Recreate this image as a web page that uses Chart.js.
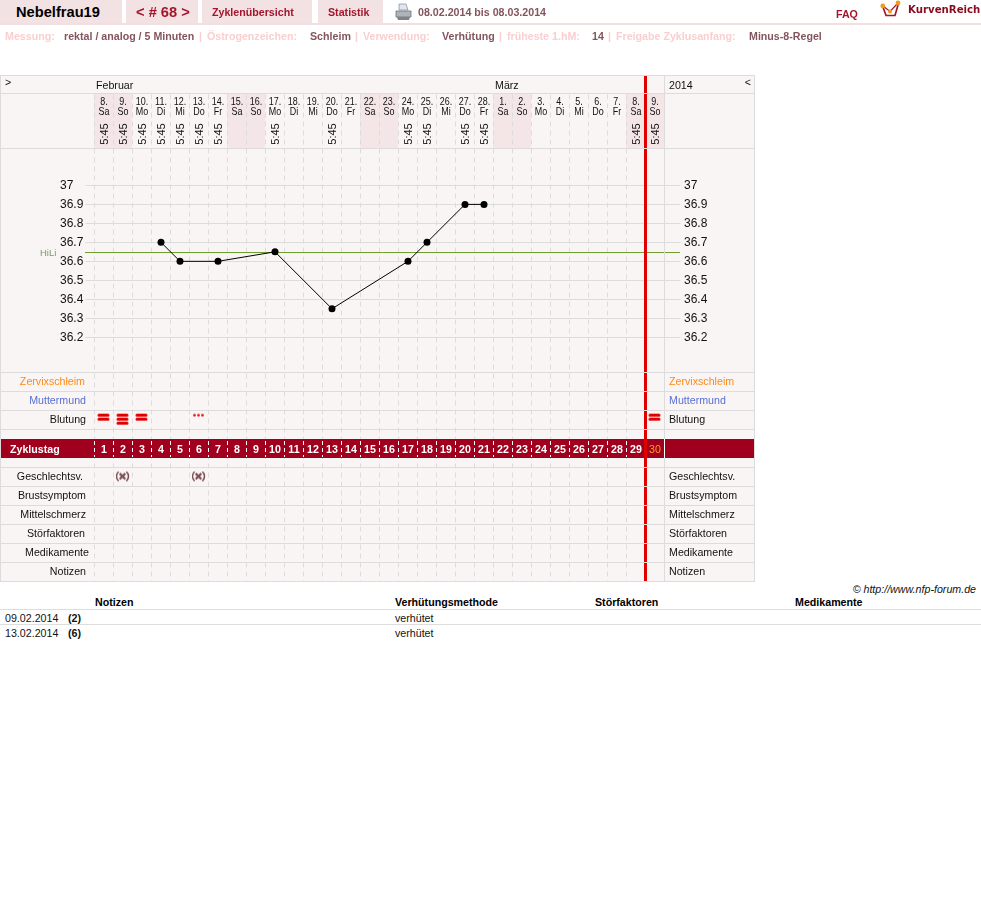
<!DOCTYPE html>
<html lang="de">
<head>
<meta charset="utf-8">
<title>Nebelfrau19</title>
<script src="https://cdn.jsdelivr.net/npm/chart.js@4"></script>
<style>
  html, body { margin: 0; padding: 0; background: #fff; }
  body { position: relative; width: 981px; height: 921px; overflow: hidden; font-family: "Liberation Sans", Arial, sans-serif; }
  #chartBox { position: absolute; left: 0; top: 0; width: 755px; height: 586px; }
  .t { position: absolute; white-space: nowrap; line-height: 12px; }
  .tab { position: absolute; top: 0; height: 23px; background: #f3e2e3; }
  .b { font-weight: bold; }
  .lbl { font-size: 10.67px; font-weight: bold; color: #f9cfd0; top: 30px; }
  .val { font-size: 10.67px; font-weight: bold; color: #84555c; top: 30px; }
  .hl { position: absolute; left: 0; width: 981px; height: 1px; background: #ddd; }
  .cell { font-size: 10.67px; color: #111; }
</style>
</head>
<body>
<div id="chartBox"><canvas id="cycleChart"></canvas></div>

<!-- Kopfzeile -->
<div class="tab" style="left:0;width:122px"></div>
<div class="tab" style="left:126px;width:72px"></div>
<div class="tab" style="left:202px;width:110px"></div>
<div class="tab" style="left:318px;width:65px"></div>
<div style="position:absolute;left:0;top:23px;width:981px;height:2px;background:#f3dfe0"></div>
<div class="t b" style="left:16px;top:6px;font-size:14.67px;color:#000">Nebelfrau19</div>
<div class="t b" style="left:136px;top:6px;font-size:14.67px;color:#a3162c">&lt; # 68 &gt;</div>
<div class="t b" style="left:212px;top:6px;font-size:10.67px;color:#a3162c">Zyklenübersicht</div>
<div class="t b" style="left:328px;top:6px;font-size:10.67px;color:#a3162c">Statistik</div>
<svg style="position:absolute;left:395px;top:3px" width="17" height="18" viewBox="0 0 17 18">
  <path d="M4 1h7l2 6H4z" fill="#dfe6ee" stroke="#8b98a6" stroke-width=".8"/>
  <path d="M1 8h15v6H1z" fill="#aeb4ba" stroke="#6d7378" stroke-width=".8"/>
  <path d="M2 14h13l-1 3H3z" fill="#7d8388"/>
</svg>
<div class="t b" style="left:418px;top:6px;font-size:10.67px;color:#84555c">08.02.2014 bis 08.03.2014</div>
<div class="t b" style="left:836px;top:8px;font-size:10.67px;color:#a3162c">FAQ</div>
<svg style="position:absolute;left:880px;top:0" width="22" height="19" viewBox="0 0 22 19">
  <path d="M3 7L6 15.500H15L18 5" fill="#fff" stroke="#a3162c" stroke-width="1.7"/>
  <path d="M3 6L10 11.500L18 3" fill="none" stroke="#a3162c" stroke-width="1.2"/>
  <circle cx="2.800" cy="6" r="2.400" fill="#f09a20"/><circle cx="10" cy="11.500" r="2" fill="#f09a20"/><circle cx="18" cy="3" r="2.400" fill="#f09a20"/>
</svg>
<div class="t b" style="left:908px;top:4px;font-family:'DejaVu Sans';font-size:10.2px;color:#8a0a1e">KurvenReich</div>

<div class="t lbl" style="left:5px">Messung:</div>
<div class="t val" style="left:64px">rektal / analog / 5 Minuten</div>
<div class="t lbl" style="left:199px">|</div>
<div class="t lbl" style="left:207px">Östrogenzeichen:</div>
<div class="t val" style="left:310px">Schleim</div>
<div class="t lbl" style="left:355px">|</div>
<div class="t lbl" style="left:363px">Verwendung:</div>
<div class="t val" style="left:442px">Verhütung</div>
<div class="t lbl" style="left:499px">|</div>
<div class="t lbl" style="left:507px">früheste 1.hM:</div>
<div class="t val" style="left:592px">14</div>
<div class="t lbl" style="left:608px">|</div>
<div class="t lbl" style="left:616px">Freigabe Zyklusanfang:</div>
<div class="t val" style="left:749px">Minus-8-Regel</div>

<!-- Fusszeile -->
<div class="t" style="right:5px;top:583px;font-size:10.67px;font-style:italic;color:#111">© http://www.nfp-forum.de</div>
<div class="t b cell" style="left:95px;top:596px;color:#000">Notizen</div>
<div class="t b cell" style="left:395px;top:596px;color:#000">Verhütungsmethode</div>
<div class="t b cell" style="left:595px;top:596px;color:#000">Störfaktoren</div>
<div class="t b cell" style="left:795px;top:596px;color:#000">Medikamente</div>
<div class="hl" style="top:609px"></div>
<div class="t cell" style="left:5px;top:612px">09.02.2014</div>
<div class="t b cell" style="left:68px;top:612px">(2)</div>
<div class="t cell" style="left:395px;top:612px">verhütet</div>
<div class="hl" style="top:624px"></div>
<div class="t cell" style="left:5px;top:627px">13.02.2014</div>
<div class="t b cell" style="left:68px;top:627px">(6)</div>
<div class="t cell" style="left:395px;top:627px">verhütet</div>

<script>
// Daten
const cycleDays = ['1','2','3','4','5','6','7','8','9','10','11','12','13','14','15','16','17','18','19','20','21','22','23','24','25','26','27','28','29','30'];
const dates = ['8.','9.','10.','11.','12.','13.','14.','15.','16.','17.','18.','19.','20.','21.','22.','23.','24.','25.','26.','27.','28.','1.','2.','3.','4.','5.','6.','7.','8.','9.'];
const weekdays = ['Sa','So','Mo','Di','Mi','Do','Fr','Sa','So','Mo','Di','Mi','Do','Fr','Sa','So','Mo','Di','Mi','Do','Fr','Sa','So','Mo','Di','Mi','Do','Fr','Sa','So'];
const times = ['5:45','5:45','5:45','5:45','5:45','5:45','5:45','','','5:45','','','5:45','','','','5:45','5:45','','5:45','5:45','','','','','','','','5:45','5:45'];
const temperature = [null,null,null,36.7,36.6,null,36.6,null,null,36.65,null,null,36.35,null,null,null,36.6,36.7,null,36.9,36.9,null,null,null,null,null,null,null,null,null];
const bleeding = [2,3,2,null,null,1,null,null,null,null,null,null,null,null,null,null,null,null,null,null,null,null,null,null,null,null,null,null,null,2];
const intercourse = [null,1,null,null,null,1,null,null,null,null,null,null,null,null,null,null,null,null,null,null,null,null,null,null,null,null,null,null,null,null];
const tempTicks = [36.2,36.3,36.4,36.5,36.6,36.7,36.8,36.9,37];
const hiLi = 36.645;
const rowNames = ['Zervixschleim','Muttermund','Blutung','Geschlechtsv.','Brustsymptom','Mittelschmerz','Störfaktoren','Medikamente','Notizen'];
const rowSlots = [0,1,2,5,6,7,8,9,10];
const rowEnds = [85,86,86,83,86,86,85,89,86];
const rowColors = ['#ff8a14','#5a6fd0','#111','#111','#111','#111','#111','#111','#111'];
const months = [['Februar',96],['März',495],['2014',669]];

const FONT = '"Liberation Sans", Arial, sans-serif';

// Symbole fuer die Punkte
function makeBleedIcon(level) {
    const c = document.createElement('canvas');
    c.width = 14; c.height = 16;
    const g = c.getContext('2d');
    g.fillStyle = '#e00000';
    if (level === 1) {
        [2.5, 6.5, 10.5].forEach(x => {
            g.beginPath(); g.arc(x, 3.5, 1.3, 0, Math.PI * 2); g.fill();
        });
    } else {
        const rows = level === 3 ? [2, 6, 10] : [2, 6];
        rows.forEach(y => {
            g.beginPath(); g.roundRect(0.5, y, 12, 3, 1.5); g.fill();
        });
    }
    return c;
}

function makeSexIcon() {
    const c = document.createElement('canvas');
    c.width = 14; c.height = 12;
    const g = c.getContext('2d');
    g.strokeStyle = '#7d4f57';
    g.lineWidth = 1.5;
    g.beginPath(); g.arc(6.5, 5.7, 6, Math.PI * 0.72, Math.PI * 1.28); g.stroke();
    g.beginPath(); g.arc(6.5, 5.7, 6, -Math.PI * 0.28, Math.PI * 0.28); g.stroke();
    g.lineWidth = 2.2;
    g.beginPath(); g.moveTo(3.7, 2.9); g.lineTo(9.3, 8.5); g.moveTo(9.3, 2.9); g.lineTo(3.7, 8.5); g.stroke();
    return c;
}

const bleedIcons = { 1: makeBleedIcon(1), 2: makeBleedIcon(2), 3: makeBleedIcon(3) };
const sexIcon = makeSexIcon();

function hline(ctx, y, x1, x2, color) {
    ctx.strokeStyle = color;
    ctx.lineWidth = 1;
    ctx.setLineDash([]);
    ctx.beginPath();
    ctx.moveTo(x1, y + 0.5);
    ctx.lineTo(x2, y + 0.5);
    ctx.stroke();
}

// Tabelle um das Diagramm herum
const tablePlugin = {
    id: 'cycleTable',
    beforeDraw(chart) {
        const ctx = chart.ctx;
        const x = chart.scales.x;
        ctx.save();
        ctx.fillStyle = '#faf5f5';
        ctx.fillRect(0, 75, 755, 507);

        // Wochenende im Kopf
        ctx.fillStyle = '#f4e5e6';
        weekdays.forEach((d, i) => {
            if (d === 'Sa' || d === 'So') {
                ctx.fillRect(Math.floor(x.getPixelForValue(i - 0.5)), 94, 19, 54);
            }
        });
        ctx.restore();
    },
    beforeDatasetsDraw(chart) {
        const ctx = chart.ctx;
        const x = chart.scales.x;
        const y = chart.scales.y;
        ctx.save();

        // HiLi
        hline(ctx, Math.floor(y.getPixelForValue(hiLi)), 85, 680, '#6f9e30');

        // Zyklustag-Balken mit weissen Strichen
        ctx.fillStyle = '#a0001e';
        ctx.fillRect(0, 439, 755, 19);
        ctx.strokeStyle = '#fff';
        ctx.lineWidth = 1;
        ctx.setLineDash([4, 3]);
        for (let i = 0; i < cycleDays.length - 1; i++) {
            const px = Math.floor(x.getPixelForValue(i - 0.5)) + 0.5;
            ctx.beginPath();
            ctx.moveTo(px, 441);
            ctx.lineTo(px, 457);
            ctx.stroke();
        }
        ctx.setLineDash([]);

        // rote Linie
        ctx.fillStyle = '#e00000';
        ctx.fillRect(Math.floor(x.getPixelForValue(28.5)) - 1, 75, 3, 507);

        // Zeilen
        [75, 93, 148, 372, 391, 410, 429, 467, 486, 505, 524, 543, 562, 581].forEach(r => hline(ctx, r, 0, 755, '#dddcdc'));
        ctx.fillStyle = '#dddcdc';
        ctx.fillRect(0, 75, 1, 507);
        ctx.fillRect(664, 75, 1, 364);
        ctx.fillRect(664, 458, 1, 124);
        ctx.fillRect(754, 75, 1, 507);
        ctx.fillStyle = '#fff';
        ctx.fillRect(664, 439, 1, 19);
        ctx.restore();
    },
    afterDraw(chart) {
        const ctx = chart.ctx;
        const x = chart.scales.x;
        const rows = chart.scales.rows;
        const y = chart.scales.y;
        ctx.save();
        ctx.textBaseline = 'middle';

        // Monate und Pfeile
        ctx.fillStyle = '#111';
        ctx.font = '10.67px ' + FONT;
        ctx.textAlign = 'left';
        months.forEach(m => ctx.fillText(m[0], m[1], 86));
        ctx.fillText('>', 5, 83);
        ctx.textAlign = 'right';
        ctx.fillText('<', 751, 83);

        // Temperaturskala links und rechts
        ctx.font = '12px ' + FONT;
        ctx.textAlign = 'left';
        tempTicks.forEach(v => {
            const py = Math.floor(y.getPixelForValue(v)) + 1;
            ctx.fillText(String(v), 60, py);
            ctx.fillText(String(v), 684, py);
        });

        // Tag, Wochentag, Messzeit
        ctx.textAlign = 'center';
        cycleDays.forEach((d, i) => {
            const px = Math.floor(x.getPixelForValue(i));
            ctx.fillStyle = '#111';
            ctx.save();
            ctx.translate(px, 0);
            ctx.scale(0.84, 1);
            ctx.font = '10.67px ' + FONT;
            ctx.fillText(dates[i], 0, 102.5);
            ctx.fillText(weekdays[i], 0, 112.5);
            ctx.restore();
            if (times[i]) {
                ctx.save();
                ctx.translate(px + 1, 134);
                ctx.rotate(-Math.PI / 2);
                ctx.font = '11px ' + FONT;
                ctx.fillText(times[i], 0, 0);
                ctx.restore();
            }
            // Zyklustag
            const last = i === cycleDays.length - 1;
            ctx.font = (last ? '' : 'bold ') + '10.67px ' + FONT;
            ctx.fillStyle = last ? '#ffa01e' : '#fff';
            ctx.fillText(d, px, 450);
        });

        // Zeilennamen links und rechts
        rowNames.forEach((name, i) => {
            const py = Math.floor(rows.getPixelForValue(rowSlots[i])) + 1;
            ctx.font = '10.67px ' + FONT;
            ctx.fillStyle = rowColors[i];
            ctx.textAlign = 'right';
            ctx.fillText(name, rowEnds[i], py);
            ctx.textAlign = 'left';
            ctx.fillText(name, 669, py);
        });
        ctx.font = 'bold 10.67px ' + FONT;
        ctx.fillStyle = '#fff';
        ctx.textAlign = 'left';
        ctx.fillText('Zyklustag', 10, 450);

        // HiLi Text
        ctx.font = '9.5px ' + FONT;
        ctx.fillStyle = '#7c9a68';
        ctx.fillText('HiLi', 40, y.getPixelForValue(hiLi) + 1);
        ctx.restore();
    }
};

function fixedWidth(width) {
    return function(scale) {
        scale.width = width;
        scale.paddingTop = 0;
        scale.paddingBottom = 0;
    };
}

function setTempTicks(scale) {
    scale.ticks = tempTicks.map(v => ({ value: v }));
}

new Chart(document.getElementById('cycleChart'), {
    type: 'line',
    data: {
        labels: cycleDays,
        datasets: [
            {
                label: 'Temperatur',
                data: temperature,
                yAxisID: 'y',
                borderColor: '#000',
                borderWidth: 1,
                backgroundColor: '#000',
                pointRadius: 3.5,
                pointBackgroundColor: '#000',
                pointBorderWidth: 0,
                spanGaps: true,
                tension: 0
            },
            {
                label: 'Blutung',
                data: bleeding.map(v => v ? 2 : null),
                yAxisID: 'rows',
                showLine: false,
                pointStyle: ctx => bleedIcons[bleeding[ctx.dataIndex]] || 'circle'
            },
            {
                label: 'Geschlechtsverkehr',
                data: intercourse.map(v => v ? 5 : null),
                yAxisID: 'rows',
                showLine: false,
                pointStyle: sexIcon
            }
        ]
    },
    options: {
        responsive: true,
        maintainAspectRatio: false,
        animation: false,
        events: [],
        layout: { padding: { left: 60.5, right: 0.5, top: 94.5, bottom: 0.5 } },
        plugins: { legend: { display: false }, tooltip: { enabled: false } },
        scales: {
            x: {
                type: 'category',
                offset: true,
                position: 'bottom',
                afterFit: scale => {
                    scale.height = 0;
                    scale.paddingLeft = 0;
                    scale.paddingRight = 0;
                },
                border: { display: false, dash: [5, 4] },
                grid: { color: '#dddcdc', offset: true, drawTicks: false },
                ticks: { display: false }
            },
            y: {
                type: 'linear',
                position: 'left',
                weight: 1,
                min: 34.9158,
                max: 37.4789,
                afterBuildTicks: setTempTicks,
                afterFit: fixedWidth(34),
                border: { display: false },
                grid: { color: '#dddcdc', tickLength: 9 },
                ticks: { display: false }
            },
            y2: {
                type: 'linear',
                position: 'right',
                min: 34.9158,
                max: 37.4789,
                afterBuildTicks: setTempTicks,
                afterFit: fixedWidth(90),
                border: { display: false },
                grid: { color: '#dddcdc', tickLength: 16, drawOnChartArea: false },
                ticks: { display: false }
            },
            rows: {
                type: 'linear',
                position: 'left',
                weight: 2,
                reverse: true,
                min: -15.132,
                max: 10.5,
                afterFit: fixedWidth(0),
                border: { display: false },
                grid: { display: false },
                ticks: { display: false }
            }
        }
    },
    plugins: [tablePlugin]
});
</script>
</body>
</html>
